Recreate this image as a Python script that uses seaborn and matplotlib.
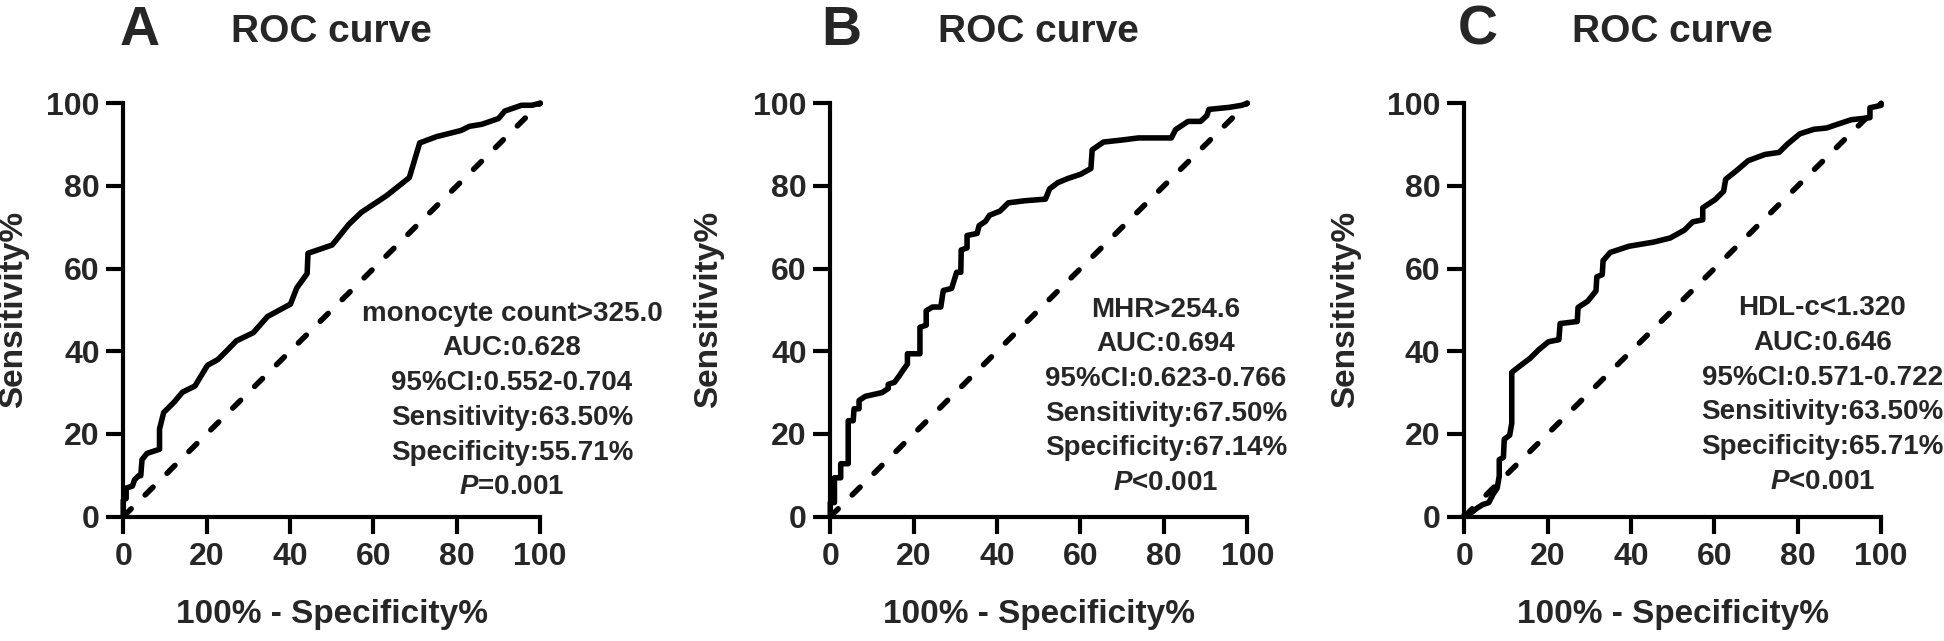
import matplotlib
matplotlib.use("Agg")
import matplotlib.pyplot as plt
import seaborn as sns
import pandas as pd

# ---- data (100% - specificity, sensitivity) ----
a_fpr = [0, 0, 0.7, 0.7, 2.2, 2.7, 3.7, 4.2, 4.5, 5.7, 8.7, 8.7, 9.7, 12.2, 14.2,
         17.2, 20.2, 22.7, 24.7, 27.1, 31.2, 34.6, 40.1, 41.6, 44.1, 44.3, 50.1,
         54.1, 57.1, 63.1, 68.6, 71.1, 75.1, 81.0, 83.0, 86.0, 90.0, 91.5, 95.5,
         98.0, 100]
a_tpr = [0, 4.0, 4.4, 6.9, 7.4, 8.9, 9.9, 9.9, 13.8, 15.3, 16.3, 21.2, 25.2, 27.7,
         30.1, 31.6, 36.6, 38.0, 40.0, 42.5, 44.5, 48.4, 51.4, 55.3, 58.8, 63.7,
         65.7, 70.7, 73.6, 77.6, 82.0, 90.4, 91.9, 93.4, 94.4, 94.9, 96.3, 98.1,
         99.5, 99.5, 100]

b_fpr = [0, 0, 1.0, 1.0, 2.5, 2.5, 4.3, 4.3, 5.5, 5.7, 6.9, 6.9, 8.4, 12.4, 13.9,
         13.9, 15.4, 16.5, 17.5, 18.5, 18.5, 21.5, 21.5, 23.0, 23.0, 24.5, 26.5,
         27.1, 29.1, 30.3, 31.3, 31.4, 32.8, 32.8, 35.2, 35.7, 37.2, 38.2, 40.7,
         42.7, 46.6, 51.6, 52.6, 54.6, 57.0, 60.0, 62.5, 62.8, 65.5, 70.0, 73.9,
         81.8, 82.8, 85.8, 88.8, 90.3, 90.8, 95.7, 98.7, 100]
b_tpr = [0, 3.4, 3.4, 9.4, 9.4, 12.8, 12.8, 23.2, 23.2, 26.1, 26.1, 28.1, 29.1,
         30.0, 31.0, 32.0, 32.5, 34.0, 35.5, 36.9, 39.4, 39.4, 45.8, 46.3, 49.8,
         50.7, 50.7, 54.7, 55.2, 59.1, 59.1, 64.5, 65.0, 68.0, 68.5, 70.4, 71.4,
         72.9, 73.9, 75.9, 76.4, 76.8, 79.3, 80.8, 81.8, 82.8, 84.2, 88.7, 90.6,
         91.1, 91.6, 91.6, 93.6, 95.6, 95.6, 97.0, 98.5, 99.0, 99.5, 100]

c_fpr = [0, 0, 1.5, 3.0, 4.4, 5.9, 6.9, 7.9, 8.4, 8.4, 9.4, 9.6, 10.9, 11.4, 11.4,
         13.3, 15.8, 17.8, 20.2, 22.7, 23.0, 27.1, 27.3, 29.6, 31.6, 31.8, 33.1,
         33.3, 35.0, 39.5, 45.4, 49.4, 52.8, 54.8, 57.2, 57.2, 60.2, 62.2, 62.7,
         65.2, 68.1, 72.1, 75.5, 77.5, 80.5, 83.9, 86.9, 89.8, 92.8, 97.3, 97.3,
         98.7, 100]
c_tpr = [0, 0.5, 0.8, 2.0, 2.9, 3.4, 5.4, 6.9, 9.8, 13.8, 14.3, 18.7, 19.7, 22.6,
         34.9, 36.4, 38.3, 40.3, 42.3, 42.8, 46.7, 47.2, 50.6, 52.1, 54.6, 58.0,
         58.5, 61.9, 63.9, 65.4, 66.4, 67.4, 69.3, 71.3, 71.8, 74.7, 76.7, 78.7,
         81.6, 83.6, 86.1, 87.6, 88.1, 90.1, 92.6, 93.7, 94.0, 95.0, 96.0, 96.5,
         98.9, 99.2, 99.5]

panel_letters = ["A", "B", "C"]
cutoff_labels = ["monocyte count>325.0", "MHR>254.6", "HDL-c<1.320"]
auc_values = ["0.628", "0.694", "0.646"]
ci_values = ["0.552-0.704", "0.623-0.766", "0.571-0.722"]
sens_values = ["63.50%", "67.50%", "63.50%"]
spec_values = ["55.71%", "67.14%", "65.71%"]
p_values = ["=0.001", "<0.001", "<0.001"]
ticks = [0, 20, 40, 60, 80, 100]

curves = [(a_fpr, a_tpr), (b_fpr, b_tpr), (c_fpr, c_tpr)]

# ---- layout ----
axes_left = [0.0634, 0.4271, 0.7532]
letter_x = [0.072, 0.4326, 0.7603]
text_x = [93.2, 80.5, 85.9]
text_top = [47.4, 48.4, 48.7]
line_step = 8.4
ylabel_x = [-0.226, -0.254, -0.248]

sns.set_style("ticks")
plt.rcParams["font.family"] = ["Liberation Sans", "DejaVu Sans"]
plt.rcParams["font.weight"] = "bold"
plt.rcParams["axes.labelweight"] = "bold"
plt.rcParams["mathtext.fontset"] = "custom"
plt.rcParams["mathtext.it"] = "Liberation Sans:italic:bold"
plt.rcParams["mathtext.rm"] = "Liberation Sans:bold"

fig = plt.figure(figsize=(19.44, 6.41), dpi=100)

for i, (fpr, tpr) in enumerate(curves):
    ax = fig.add_axes([axes_left[i], 0.194, 0.2145, 0.645])
    df = pd.DataFrame({"fpr": fpr, "tpr": tpr})

    sns.lineplot(x=[0, 100], y=[0, 100], ax=ax, color="black", linewidth=4,
                 linestyle=(0, (2.0, 3.55)), dash_capstyle="round", clip_on=False)
    sns.lineplot(data=df, x="fpr", y="tpr", ax=ax, sort=False, estimator=None,
                 color="black", linewidth=4, clip_on=False)

    ax.set_xlim(0, 100)
    ax.set_ylim(0, 100)
    ax.set_xticks(ticks)
    ax.set_yticks(ticks)
    sns.despine(ax=ax)
    for side in ["left", "bottom"]:
        ax.spines[side].set_linewidth(3)
        ax.spines[side].set_color("black")
    ax.tick_params(axis="both", direction="out", length=12, width=3,
                   labelsize=23, color="black")
    ax.tick_params(axis="x", pad=6)
    ax.tick_params(axis="y", pad=5)

    ax.set_xlabel("100% - Specificity%", fontsize=24, fontweight="bold")
    ax.set_ylabel("Sensitivity%", fontsize=24, fontweight="bold")
    ax.xaxis.set_label_coords(0.5, -0.20)
    ax.yaxis.set_label_coords(ylabel_x[i], 0.5)

    lines = [cutoff_labels[i],
             "AUC:" + auc_values[i],
             "95%CI:" + ci_values[i],
             "Sensitivity:" + sens_values[i],
             "Specificity:" + spec_values[i],
             r"$P$" + p_values[i]]
    for k, line in enumerate(lines):
        ax.text(text_x[i], text_top[i] - k * line_step, line, fontsize=20,
                fontweight="bold", ha="center", va="baseline")

    pos = ax.get_position()
    fig.text(letter_x[i], 0.930, panel_letters[i], fontsize=40,
             fontweight="bold", ha="center", va="baseline")
    fig.text(pos.x0 + pos.width / 2, 0.935, "ROC curve", fontsize=28,
             fontweight="bold", ha="center", va="baseline")

fig.savefig("out.png", dpi=100)
